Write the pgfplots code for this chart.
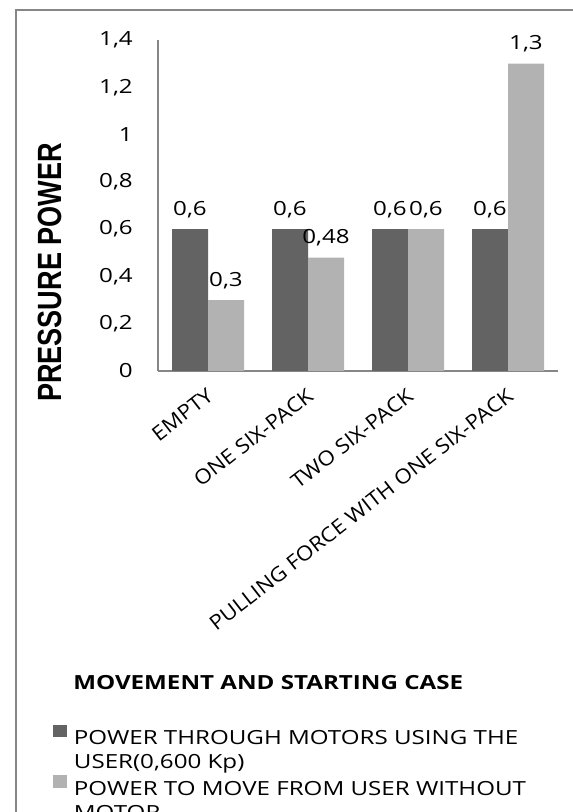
\documentclass[border=0pt]{standalone}
\usepackage{pgfplots}
\pgfplotsset{compat=1.18}
\usepackage{fontspec}
\setmainfont{Open Sans}[FakeStretch=1.24]
\newfontfamily\xlabfont{Open Sans}[FakeStretch=1.1]
\newfontfamily\ylabfont{Liberation Sans}[FakeStretch=0.806]
\definecolor{darkbar}{RGB}{99,99,99}
\definecolor{lightbar}{RGB}{178,178,178}
\definecolor{framegray}{RGB}{134,134,134}
\newcommand\mainsize{\fontsize{14.6pt}{18pt}\selectfont}
\begin{document}
\begin{tikzpicture}[font=\mainsize]
\useasboundingbox (0,0) rectangle (429.75pt,609pt);
\draw[framegray, line width=1.5pt] (12pt,-5pt) -- (12pt,601.5pt) -- (440pt,601.5pt);
\begin{axis}[
  at={(118.5pt,330.75pt)}, anchor=south west,
  scale only axis, width=300pt, height=248.25pt,
  xmin=-0.5, xmax=3.5, ymin=0, ymax=1.4,
  clip=false,
  axis x line*=bottom, axis y line*=left,
  axis line style={framegray, line width=1.1pt, -},
  ytick={0,0.2,0.4,0.6,0.8,1,1.2,1.4},
  xtick={0,1,2,3},
  xticklabels={EMPTY, ONE SIX-PACK, TWO SIX-PACK, PULLING FORCE WITH ONE SIX-PACK},
  major tick length=0pt, tick style={draw=none},
  /pgf/number format/.cd, use comma, assume math mode=true, /pgfplots/.cd,
  yticklabel style={font=\mainsize, anchor=east, inner sep=0pt, xshift=-18.75pt},
  xticklabel style={font=\xlabfont\fontsize{15.2pt}{18pt}\selectfont, anchor=north east, inner sep=0pt, xshift=-1.7pt, yshift=-11.75pt, rotate=38},
  ylabel={\ylabfont\bfseries\fontsize{25.2pt}{30pt}\selectfont PRESSURE POWER},
  ylabel style={at={(axis description cs:-0.27,0.2976)}, anchor=center, inner sep=0pt},
  ybar, bar width=27pt,
  nodes near coords,
  every node near coord/.append style={font=\mainsize, anchor=base, yshift=10.5pt, inner sep=0pt, text=black},
  legend style={at={(axis description cs:-0.2625,-1.0675)}, anchor=north west, draw=none, fill=none, inner sep=0pt, column sep=5pt, row sep=1.8pt, font=\mainsize, nodes={inner sep=0pt, text height=12.5pt, text depth=3.5pt}},
  legend cell align=left,
  legend image code/.code={\fill[#1] (0pt,1pt) rectangle (10.5pt,10.5pt);},
]
\addplot[fill=darkbar, draw=none, bar shift=-13.5pt] coordinates {(0,0.6) (1,0.6) (2,0.6) (3,0.6)};
\addlegendimage{empty legend}
\addplot[fill=lightbar, draw=none, bar shift=13.5pt] coordinates {(0,0.3) (1,0.48) (2,0.6) (3,1.3)};
\addlegendimage{empty legend}
\legend{POWER THROUGH MOTORS USING THE,{USER(0,600 Kp)},POWER TO MOVE FROM USER WITHOUT,MOTOR}
\node[anchor=base west, inner sep=0pt, font=\mainsize\bfseries] at (axis description cs:-0.2125,-0.9637) {MOVEMENT AND STARTING CASE};
\end{axis}
\end{tikzpicture}
\end{document}
